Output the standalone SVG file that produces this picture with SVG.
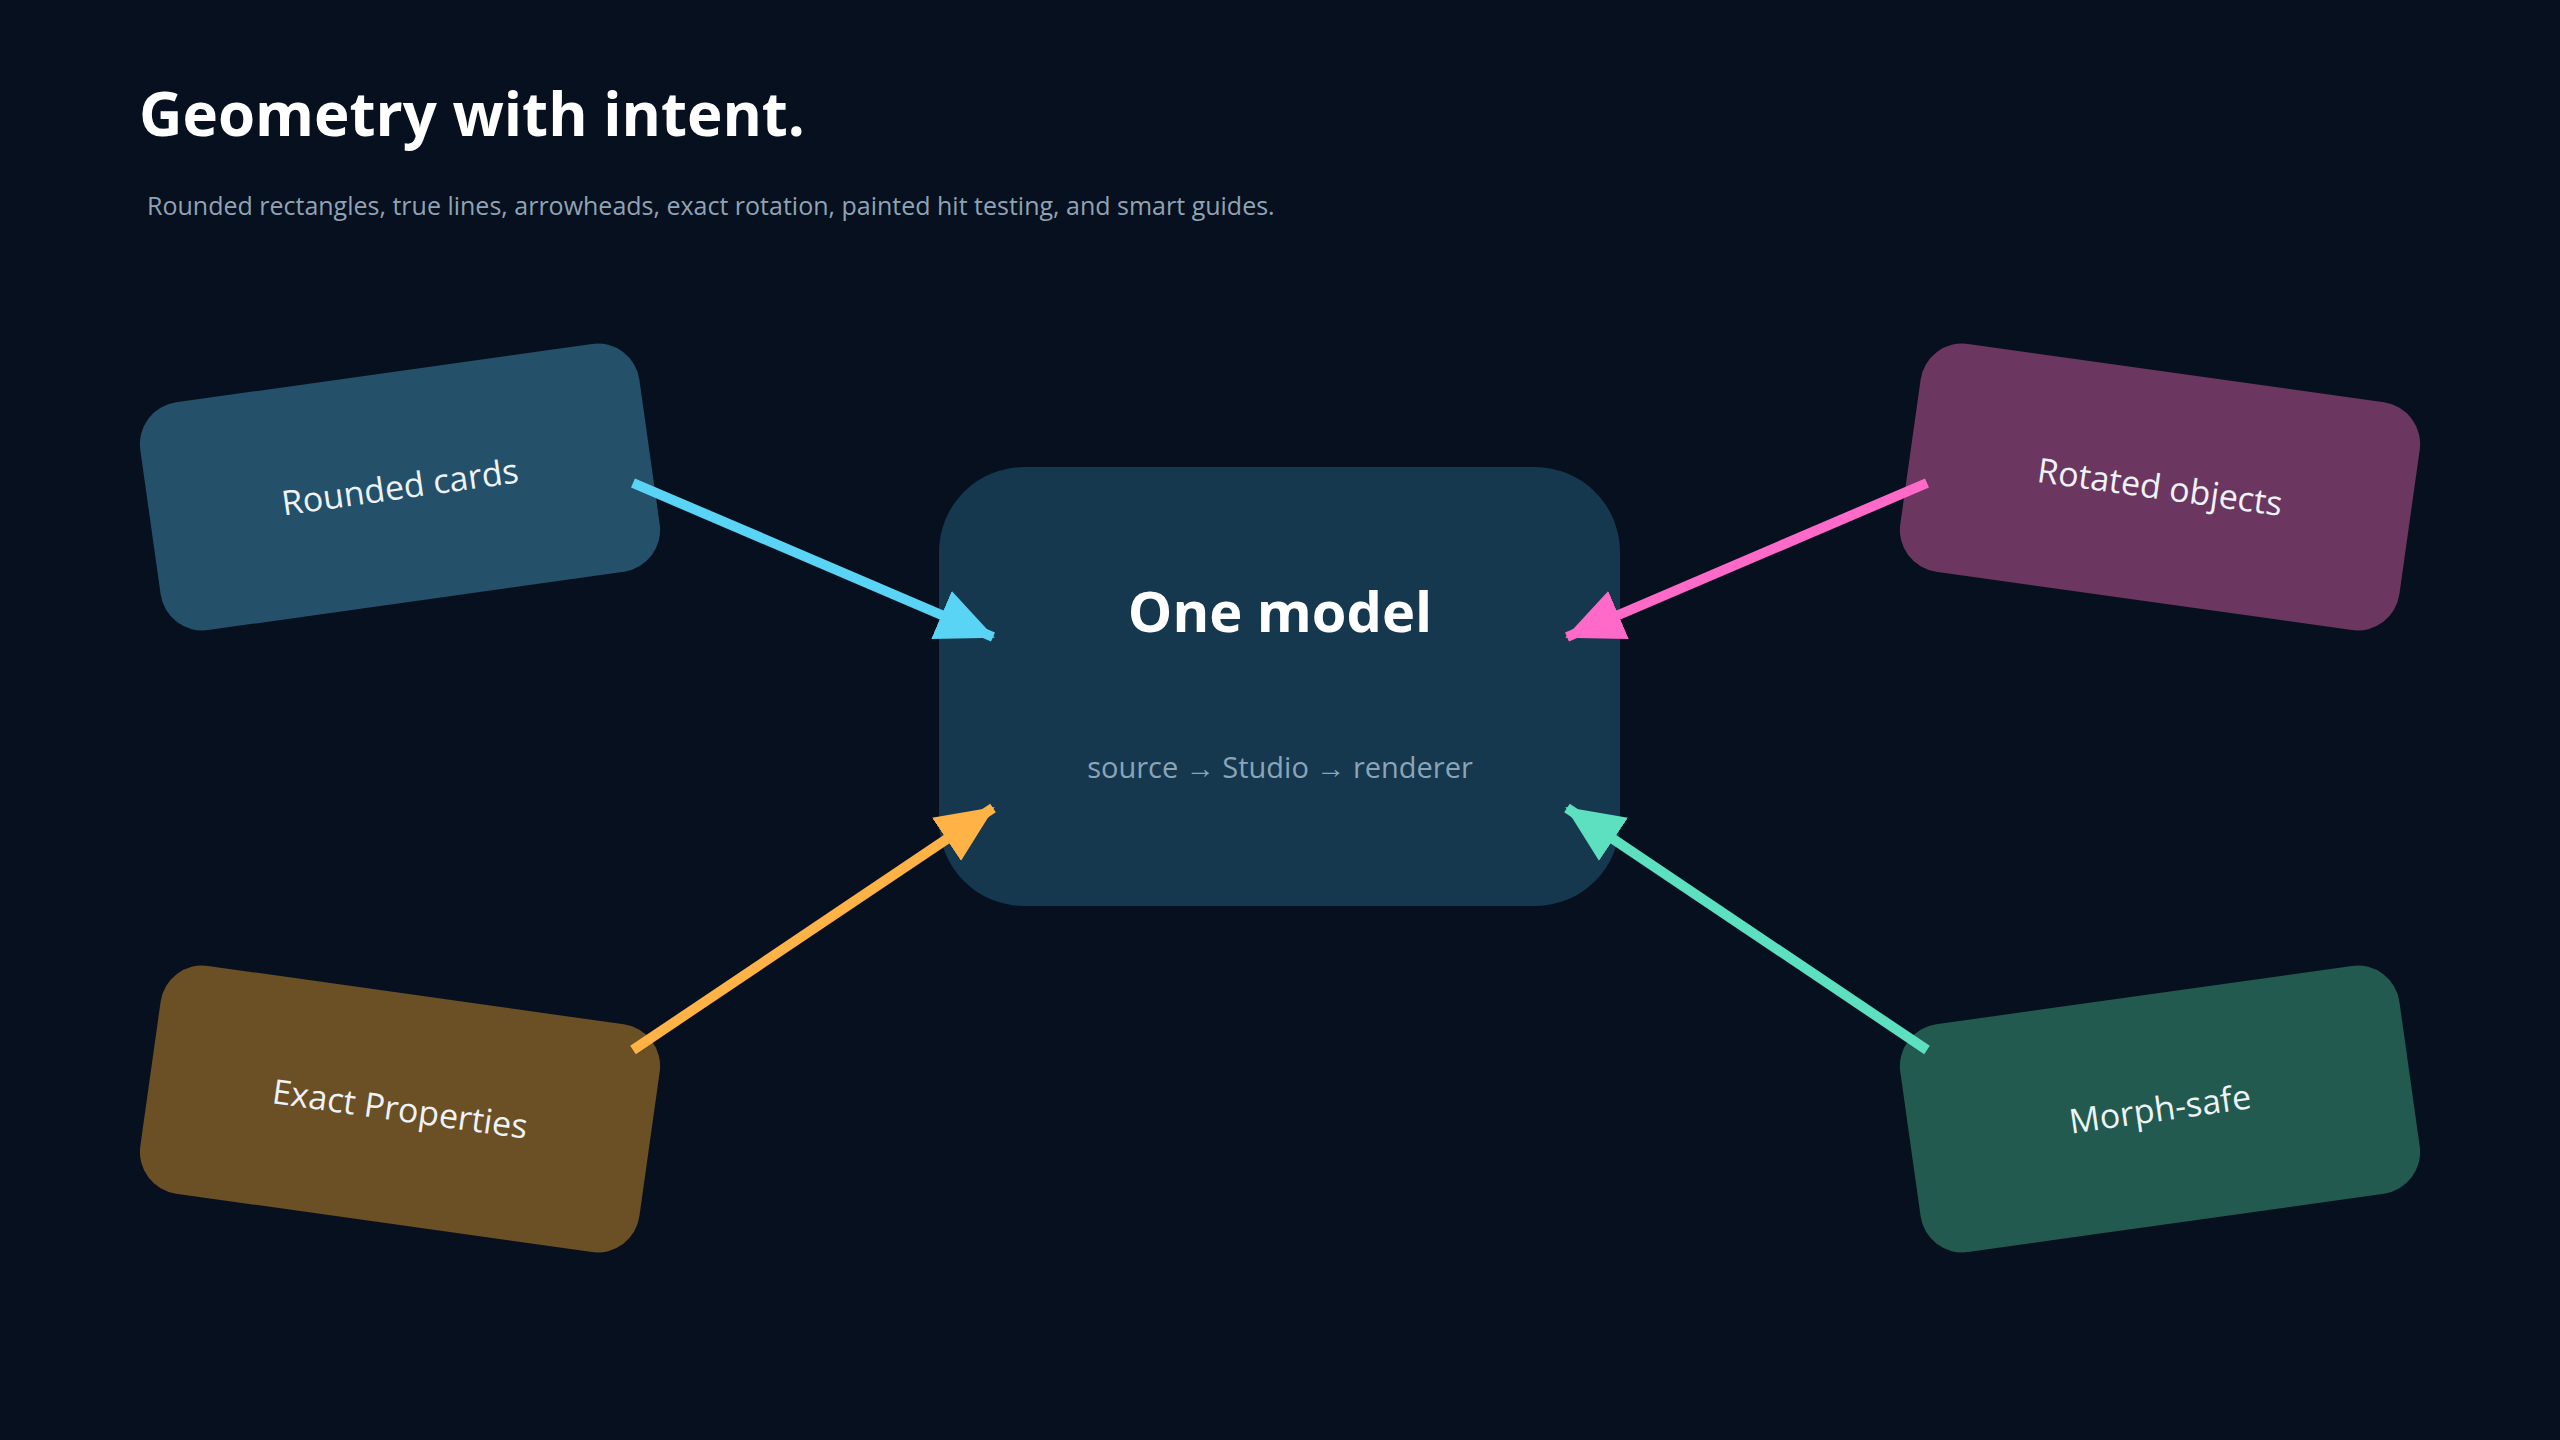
<svg xmlns="http://www.w3.org/2000/svg" width="2560" height="1440" viewBox="0 0 2560 1440">
<style>
text{font-family:"Open Sans","Noto Sans",sans-serif}
.card{font-size:34px;fill:#eef3f7;text-anchor:middle}
.conn{stroke-width:10;fill:none}
</style>
<defs>
<marker id="mc" markerUnits="userSpaceOnUse" markerWidth="70" markerHeight="70" refX="56" refY="26" orient="auto"><path d="M0,0 L58,26 L0,52 Z" fill="#5ad4f5"/></marker>
<marker id="mp" markerUnits="userSpaceOnUse" markerWidth="70" markerHeight="70" refX="56" refY="26" orient="auto"><path d="M0,0 L58,26 L0,52 Z" fill="#ff6ac8"/></marker>
<marker id="mo" markerUnits="userSpaceOnUse" markerWidth="70" markerHeight="70" refX="56" refY="26" orient="auto"><path d="M0,0 L58,26 L0,52 Z" fill="#ffb347"/></marker>
<marker id="mg" markerUnits="userSpaceOnUse" markerWidth="70" markerHeight="70" refX="56" refY="26" orient="auto"><path d="M0,0 L58,26 L0,52 Z" fill="#5ce0c0"/></marker>
</defs>
<rect width="2560" height="1440" fill="#07101e"/>
<text x="139" y="136" font-size="60" font-weight="bold" fill="#ffffff">Geometry with intent.</text>
<text x="147" y="215" font-size="25" fill="#8fa3b5">Rounded rectangles, true lines, arrowheads, exact rotation, painted hit testing, and smart guides.</text>
<g id="center">
<rect x="939" y="467" width="681" height="439" rx="85" fill="#16384e"/>
<text x="1280" y="632" font-size="56" font-weight="bold" fill="#ffffff" text-anchor="middle">One model</text>
<text x="1280" y="778" font-size="29" fill="#8aa4b8" text-anchor="middle">source → Studio → renderer</text>
</g>
<g id="rounded-cards" transform="translate(400,487) rotate(-8)">
<rect x="-252" y="-115" width="504" height="230" rx="42" fill="#24506a"/>
<text class="card" y="12">Rounded cards</text>
</g>
<g id="rotated-objects" transform="translate(2160,487) rotate(8)">
<rect x="-252" y="-115" width="504" height="230" rx="42" fill="#6b3760"/>
<text class="card" y="12">Rotated objects</text>
</g>
<g id="exact-properties" transform="translate(400,1109) rotate(8)">
<rect x="-252" y="-115" width="504" height="230" rx="42" fill="#6b4f25"/>
<text class="card" y="12">Exact Properties</text>
</g>
<g id="morph-safe" transform="translate(2160,1109) rotate(-8)">
<rect x="-252" y="-115" width="504" height="230" rx="42" fill="#235a4f"/>
<text class="card" y="12">Morph-safe</text>
</g>
<g id="connectors">
<line class="conn" x1="633" y1="483" x2="993" y2="637" stroke="#5ad4f5" marker-end="url(#mc)"/>
<line class="conn" x1="1927" y1="483" x2="1567" y2="637" stroke="#ff6ac8" marker-end="url(#mp)"/>
<line class="conn" x1="633" y1="1050" x2="993" y2="808" stroke="#ffb347" marker-end="url(#mo)"/>
<line class="conn" x1="1927" y1="1050" x2="1567" y2="808" stroke="#5ce0c0" marker-end="url(#mg)"/>
</g>
</svg>
